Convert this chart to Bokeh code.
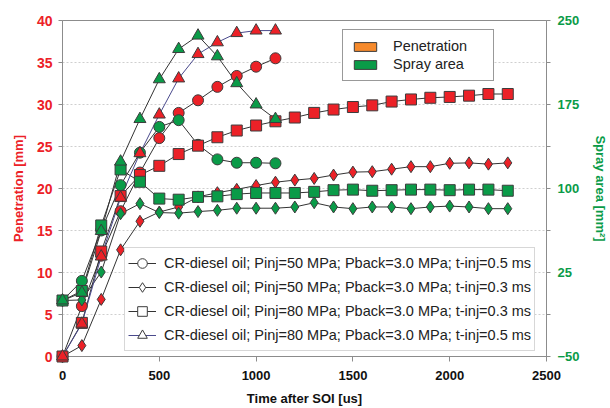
from bokeh.plotting import figure
from bokeh.models import (Range1d, LinearAxis, FixedTicker, Legend, LegendItem)
from bokeh.embed import file_html
from bokeh.resources import INLINE

NAN = float("nan")

# ---------------- data ----------------
time_short = [0, 100, 200, 300, 400, 500, 600, 700, 800, 900, 1000, 1100]
time_long = [0, 100, 200, 300, 400, 500, 600, 700, 800, 900, 1000, 1100,
             1200, 1300, 1400, 1500, 1600, 1700, 1800, 1900, 2000, 2100, 2200, 2300]

# Penetration [mm]
pen_50_05 = [0, 6.0, 12.0, 17.3, 21.9, 26.0, 29.0, 30.5, 32.1, 33.4, 34.5, 35.5]
pen_50_03 = [0, 1.3, 6.8, 12.7, 16.1, 17.2, 17.8, 19.0, 19.5, 19.9, 20.35, 20.75,
             21.0, 21.2, 21.6, 21.95, 22.0, 22.3, 22.6, 22.6, 23.0, 23.05, 22.9, 23.05]
pen_80_03 = [0, 4.0, 12.5, 19.1, 21.6, 22.7, 24.1, 25.1, 26.1, 26.9, 27.5, 28.0,
             28.45, 29.0, 29.4, 29.7, 29.9, 30.35, 30.6, 30.8, 30.9, 31.05, 31.25, 31.25]
pen_80_05 = [0, 3.9, 11.9, 18.9, 24.2, 28.8, 33.1, 36.0, 37.4, 38.5, 38.8, 38.8]

# Spray area [mm^2]
area_50_05 = [0, 17.5, 62.5, 103, 132, 155, 161, 139, 126, 123, 123, 122.5]
area_50_03 = [0, 0.5, 25.4, 77.5, 86.5, 78.5, 78, 79.4, 80.5, 82.4, 82.4, 82.4,
              83.5, 87.3, 83.5, 82, 83.5, 83.5, 82, 83.5, 84.3, 83.5, 82, 82]
area_80_03 = [0, 8.5, 67, 117, 106, 91, 90, 92.5, 93, 95, 96, 96,
              96, 97, 98.5, 99, 98, 98.5, 99, 99, 98.5, 99, 99, 98]
area_80_05 = [0, 7, 62, 124, 162, 197.5, 224.5, 236.5, 218, 194, 175, 162]

left_ticks = [0, 5, 10, 15, 20, 25, 30, 35, 40]
right_ticks = [-50, 25, 100, 175, 250]
right_minor_ticks = [-12.5, 62.5, 137.5, 212.5]
x_ticks = [0, 500, 1000, 1500, 2000, 2500]

series_labels = [
    "CR-diesel oil; Pinj=50 MPa; Pback=3.0 MPa; t-inj=0.5 ms",
    "CR-diesel oil; Pinj=50 MPa; Pback=3.0 MPa; t-inj=0.3 ms",
    "CR-diesel oil; Pinj=80 MPa; Pback=3.0 MPa; t-inj=0.3 ms",
    "CR-diesel oil; Pinj=80 MPa; Pback=3.0 MPa; t-inj=0.5 ms",
]
kind_labels = ["Penetration", "Spray area"]

# ---------------- style ----------------
RED = "#ec2127"
GREEN = "#0a9b48"
ORANGE = "#f68a2c"
LINE = "#333333"
BLUE = "#4a4a8c"
EDGE = "#3c3c3c"
AXIS = "#8c8c8c"
FONT = "Liberation Sans"

p = figure(width=610, height=408, output_backend="svg", toolbar_location=None,
           x_range=Range1d(0, 2500), y_range=Range1d(0, 40),
           min_border_left=62, min_border_right=62, min_border_top=20,
           min_border_bottom=51)
p.extra_y_ranges = {"area": Range1d(-50, 250)}
p.outline_line_color = AXIS
p.outline_line_width = 1
p.background_fill_color = "white"
p.border_fill_color = "white"

p.xgrid.visible = False
p.ygrid.ticker = FixedTicker(ticks=left_ticks)
p.ygrid.grid_line_color = "#cfcfcf"
p.ygrid.grid_line_dash = "2 2"
p.ygrid.grid_line_width = 1

# x axis
xa = p.xaxis[0]
xa.ticker = FixedTicker(ticks=x_ticks)
xa.axis_label = "Time after SOI [us]"
xa.axis_label_text_font = FONT
xa.axis_label_text_font_style = "bold"
xa.axis_label_text_font_size = "13px"
xa.axis_label_text_color = "#111111"
xa.axis_label_standoff = 8
xa.major_label_text_font = FONT
xa.major_label_text_font_style = "bold"
xa.major_label_text_font_size = "13px"
xa.major_label_text_color = "#111111"
xa.major_label_standoff = 9
xa.axis_line_color = AXIS
xa.major_tick_line_color = AXIS
xa.major_tick_in = 0
xa.major_tick_out = 5
xa.minor_tick_line_color = None

# left axis
ya = p.yaxis[0]
ya.ticker = FixedTicker(ticks=left_ticks)
ya.axis_label = "Penetration [mm]"
ya.axis_label_text_font = FONT
ya.axis_label_text_font_style = "bold"
ya.axis_label_text_font_size = "13px"
ya.axis_label_text_color = RED
ya.axis_label_standoff = 8
ya.major_label_text_font = FONT
ya.major_label_text_font_style = "bold"
ya.major_label_text_font_size = "14px"
ya.major_label_text_color = RED
ya.major_label_standoff = 6
ya.axis_line_color = AXIS
ya.major_tick_line_color = AXIS
ya.major_tick_in = 0
ya.major_tick_out = 4
ya.minor_tick_line_color = None

# right axis
ra = LinearAxis(y_range_name="area",
                ticker=FixedTicker(ticks=right_ticks, minor_ticks=right_minor_ticks))
ra.axis_label = "Spray area [mm\u00b2]"
ra.axis_label_text_font = FONT
ra.axis_label_text_font_style = "bold"
ra.axis_label_text_font_size = "13px"
ra.axis_label_text_color = GREEN
ra.axis_label_standoff = 10
ra.major_label_text_font = FONT
ra.major_label_text_font_style = "bold"
ra.major_label_text_font_size = "13px"
ra.major_label_text_color = GREEN
ra.major_label_standoff = 7
ra.axis_line_color = AXIS
ra.major_tick_line_color = AXIS
ra.minor_tick_line_color = AXIS
ra.major_tick_in = 0
ra.major_tick_out = 4
ra.minor_tick_in = 0
ra.minor_tick_out = 4
p.add_layout(ra, "right")

# ---------------- series ----------------
def series(x, y, marker, size, fill, line_color, rng=None):
    kw = {} if rng is None else {"y_range_name": rng}
    p.line(x, y, line_color=line_color, line_width=1, **kw)
    p.scatter(x, y, marker=marker, size=size, fill_color=fill,
              line_color=EDGE, line_width=1, level="overlay", **kw)

# circles
series(time_short, pen_50_05, "circle", 11, RED, LINE)
series(time_short, area_50_05, "circle", 11, GREEN, LINE, "area")
# diamonds
series(time_long, pen_50_03, "diamond", 12, RED, LINE)
series(time_long, area_50_03, "diamond", 12, GREEN, LINE, "area")
# squares
series(time_long, pen_80_03, "square", 11, RED, LINE)
series(time_long, area_80_03, "square", 11, GREEN, LINE, "area")
# triangles
series(time_short, pen_80_05, "triangle", 12, RED, BLUE)
series(time_short, area_80_05, "triangle", 12, GREEN, LINE, "area")

# ---------------- legends (proxy renderers without visible data) ----------------
sw_pen = p.quad(left=[NAN], right=[NAN], top=[NAN], bottom=[NAN],
                fill_color=ORANGE, line_color=EDGE)
sw_area = p.quad(left=[NAN], right=[NAN], top=[NAN], bottom=[NAN],
                 fill_color=GREEN, line_color=EDGE)
leg1 = Legend(items=[LegendItem(label=kind_labels[0], renderers=[sw_pen]),
                     LegendItem(label=kind_labels[1], renderers=[sw_area])],
              location=(280, 275), glyph_width=28, glyph_height=11,
              label_standoff=14, label_width=92, padding=8, spacing=2, margin=0,
              label_text_font=FONT, label_text_font_size="14.5px",
              label_text_color="#222222",
              border_line_color="#333333", border_line_width=1,
              background_fill_color="white", background_fill_alpha=1)
p.add_layout(leg1)

items = []
legend_markers = ["circle", "diamond", "square", "triangle"]
legend_line_colors = [LINE, LINE, LINE, BLUE]
for lab, mk, lc in zip(series_labels, legend_markers, legend_line_colors):
    lr = p.line([NAN], [NAN], line_color=lc, line_width=1)
    sr = p.scatter([NAN], [NAN], marker=mk, size=11, fill_color="white",
                   line_color=EDGE, line_width=1)
    items.append(LegendItem(label=lab, renderers=[lr, sr]))
leg2 = Legend(items=items, location=(62, 5), glyph_width=28, glyph_height=24,
              label_standoff=8, padding=3, spacing=-3, margin=0,
              label_height=20,
              label_text_font=FONT, label_text_font_size="14.5px",
              label_text_color="#222222",
              border_line_color="#b0b0b0", border_line_width=1,
              background_fill_color="white", background_fill_alpha=1)
p.add_layout(leg2)

open("out.html", "w").write(file_html(p, INLINE))
